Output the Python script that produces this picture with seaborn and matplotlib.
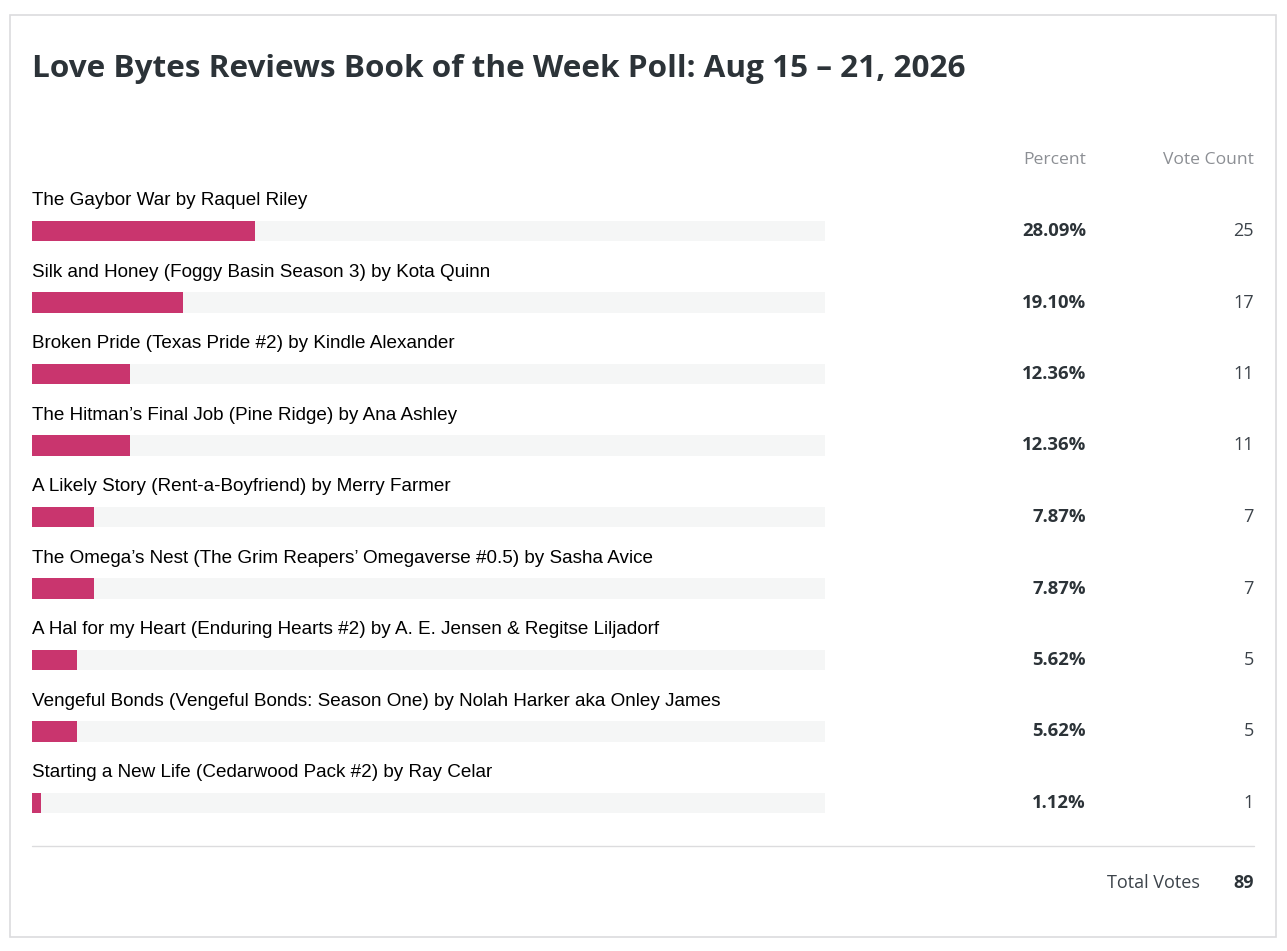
import matplotlib
matplotlib.use("Agg")
import matplotlib.pyplot as plt
import matplotlib.transforms as mtransforms
from matplotlib.patches import Rectangle
from matplotlib.lines import Line2D
import seaborn as sns
import pandas as pd

# poll data
books = [
    "The Gaybor War by Raquel Riley",
    "Silk and Honey (Foggy Basin Season 3) by Kota Quinn",
    "Broken Pride (Texas Pride #2) by Kindle Alexander",
    "The Hitman\u2019s Final Job (Pine Ridge) by Ana Ashley",
    "A Likely Story (Rent-a-Boyfriend) by Merry Farmer",
    "The Omega\u2019s Nest (The Grim Reapers\u2019 Omegaverse #0.5) by Sasha Avice",
    "A Hal for my Heart (Enduring Hearts #2) by A. E. Jensen & Regitse Liljadorf",
    "Vengeful Bonds (Vengeful Bonds: Season One) by Nolah Harker aka Onley James",
    "Starting a New Life (Cedarwood Pack #2) by Ray Celar",
]
percent = [28.09, 19.10, 12.36, 12.36, 7.87, 7.87, 5.62, 5.62, 1.12]
votes = [25, 17, 11, 11, 7, 7, 5, 5, 1]
total_votes = 89
title = "Love Bytes Reviews Book of the Week Poll: Aug 15 \u2013 21, 2026"

W, H = 1287, 951
sns.set_theme(style="white")
plt.rcParams["font.family"] = ["Open Sans", "DejaVu Sans"]

fig = plt.figure(figsize=(W / 100, H / 100), dpi=100)
fig.patch.set_facecolor("white")

def px(x, y):
    return x / W, 1 - y / H

# card border
fig.patches.append(Rectangle(px(10, 937), 1266 / W, 922 / H, transform=fig.transFigure,
                             fill=False, edgecolor="#dcdcde", linewidth=1.2))

fig.text(*px(32, 69), title, fontsize=22.65, fontweight="bold", color="#2c3338",
         va="center", ha="left")

fig.text(*px(1086, 160), "Percent", fontsize=12.6, color="#8c8f94", ha="right", va="center")
fig.text(*px(1254, 160), "Vote Count", fontsize=12.6, color="#8c8f94", ha="right", va="center")

# bar area: 0..100 % over x 32..825 px, rows 71.5 px apart
top = 231 - 35.75
bottom = 803 + 35.75
ax = fig.add_axes([32 / W, 1 - bottom / H, (825 - 32) / W, (bottom - top) / H])

df = pd.DataFrame({"book": books, "percent": percent, "track": [100] * len(books)})
sns.barplot(data=df, x="track", y="book", orient="h", color="#f5f6f6",
            saturation=1, width=0.29, linewidth=0, ax=ax)
sns.barplot(data=df, x="percent", y="book", orient="h", color="#c9356e",
            saturation=1, width=0.29, linewidth=0, ax=ax)
ax.set_xlim(0, 100)
ax.set_ylim(len(books) - 0.5, -0.5)
ax.set_axis_off()

trans = mtransforms.blended_transform_factory(fig.transFigure, ax.transData)
for i, (b, p, v) in enumerate(zip(books, percent, votes)):
    ax.text(0, i - 0.42, b, fontsize=13.6, color="black", ha="left", va="center",
            family=["Liberation Sans", "DejaVu Sans"])
    ax.text(1086 / W, i, f"{p:.2f}%", transform=trans, fontsize=13.3, fontweight="bold",
            color="#2c3338", ha="right", va="center")
    ax.text(1254 / W, i, str(v), transform=trans, fontsize=13, color="#3c434a",
            ha="right", va="center")

fig.lines.append(Line2D([32 / W, 1254 / W], [1 - 846 / H] * 2, transform=fig.transFigure,
                        color="#dcdcde", linewidth=1))
fig.text(*px(1200, 883), "Total Votes", fontsize=13, color="#3c434a", ha="right", va="center")
fig.text(*px(1254, 883), str(total_votes), fontsize=13, fontweight="bold",
         color="#2c3338", ha="right", va="center")

fig.savefig("out.png", dpi=100)
